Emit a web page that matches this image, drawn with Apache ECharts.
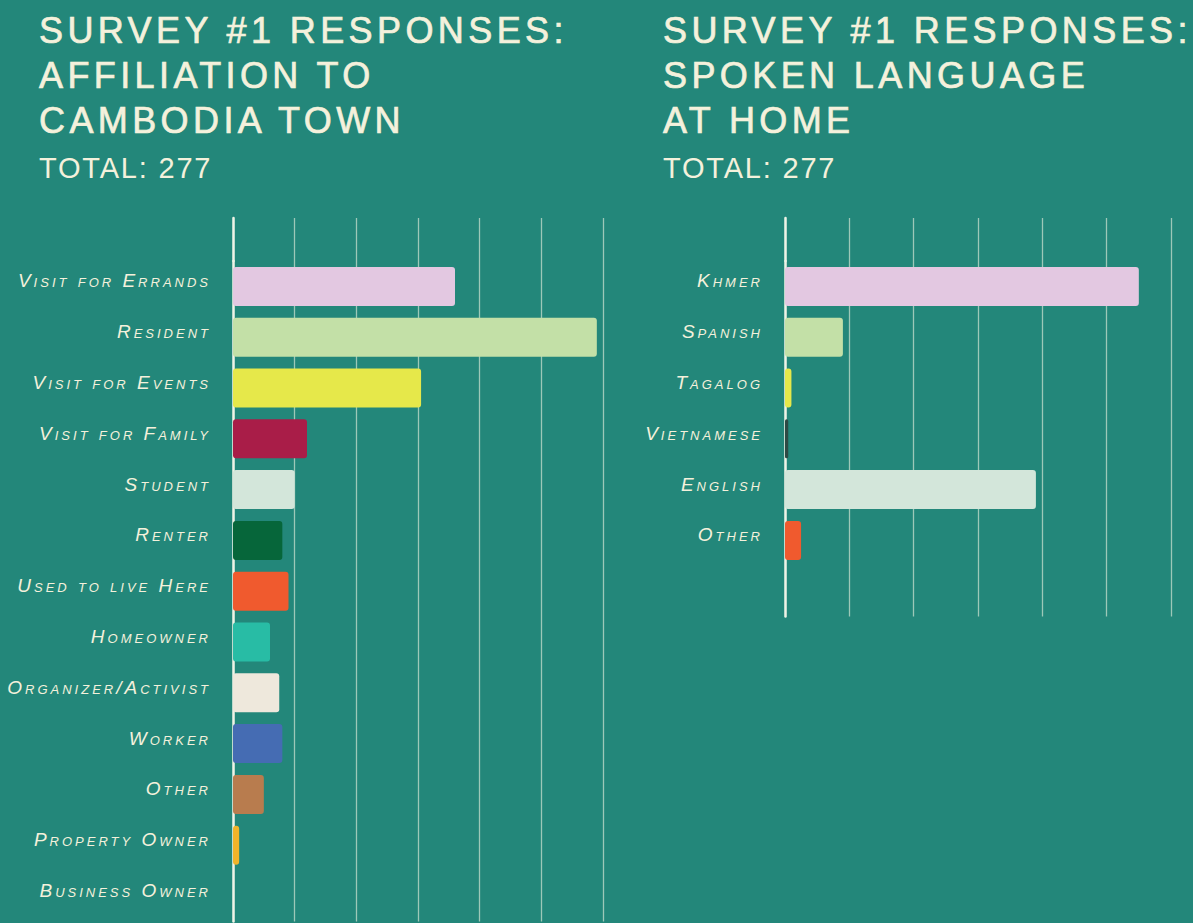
<!DOCTYPE html>
<html><head><meta charset="utf-8">
<script src="https://cdn.jsdelivr.net/npm/echarts@6/dist/echarts.min.js"></script>
<style>
html,body{margin:0;padding:0;background:#23877a;overflow:hidden;}
#main{width:1193px;height:923px;}
#main text[style*="italic"]{font-variant:small-caps !important;letter-spacing:3px;}
#main text[style*="36px"]{letter-spacing:4.4px;}
#main text[style*="29px"]{letter-spacing:1.8px;}
</style></head>
<body><div id="main"></div>
<script>
// ---- data ----
const affiliationCategories = ['Visit for Errands','Resident','Visit for Events','Visit for Family','Student','Renter','Used to live Here','Homeowner','Organizer/Activist','Worker','Other','Property Owner','Business Owner'];
const affiliationValues = [72, 118, 61, 24, 20, 16, 18, 12, 15, 16, 10, 2, 0];
const affiliationColors = ['#e3c8e1','#c3e0a7','#e6e84a','#a91d48','#d3e6da','#06663a','#f05a2e','#28bca5','#eee8dc','#456cb3','#b87c4e','#f0b42a','#f0b42a'];
const languageCategories = ['Khmer','Spanish','Tagalog','Vietnamese','English','Other'];
const languageValues = [110, 18, 2, 1, 78, 5];
const languageColors = ['#e3c8e1','#c3e0a7','#e6e84a','#2d4a44','#d3e6da','#f05a2e'];
const titleLeft = 'SURVEY #1 RESPONSES:\nAFFILIATION TO\nCAMBODIA TOWN';
const titleRight = 'SURVEY #1 RESPONSES:\nSPOKEN LANGUAGE\nAT HOME';
const totalText = 'TOTAL: 277';

// ---- style ----
const cream = '#f4f1dc';
const gridColor = 'rgba(232,240,222,0.62)';
const axisMax = 120, axisStep = 20;

function xAx(gi){
  return {type:'value', gridIndex:gi, min:0, max:axisMax, interval:axisStep,
    axisLabel:{show:false}, axisLine:{show:false}, axisTick:{show:false},
    splitLine:{show:true, lineStyle:{color:gridColor, width:1.3}}};
}
function yAx(gi, data, showLabel){
  return {type:'category', gridIndex:gi, inverse:true, data:data,
    axisLine:{show:true, lineStyle:{color:'#eef3e6', width:2.5}},
    axisTick:{show:false}, splitLine:{show:false},
    axisLabel:{show:showLabel, interval:0, color:cream, fontSize:19, fontStyle:'italic',
      fontFamily:'Liberation Sans', margin:22, verticalAlign:'bottom', lineHeight:11}};
}
function barData(vals, cols){
  return vals.map((v,i)=>({value:v, itemStyle:{color:cols[i]}}));
}
const titleStyle = {color:cream, fontSize:36, lineHeight:45, fontWeight:'normal', fontFamily:'Liberation Sans',
  textBorderColor:cream, textBorderWidth:0.7};
const subStyle = {color:cream, fontSize:29, lineHeight:34, fontFamily:'Liberation Sans'};

const chart = echarts.init(document.getElementById('main'), null, {renderer:'svg'});
chart.setOption({
  animation:false,
  backgroundColor:'#23877a',
  title:[
    {text:titleLeft, subtext:totalText, left:39, top:8, padding:0, itemGap:8, textStyle:titleStyle, subtextStyle:subStyle},
    {text:titleRight, subtext:totalText, left:663, top:8, padding:0, itemGap:8, textStyle:titleStyle, subtextStyle:subStyle}
  ],
  grid:[
    {left:233, top:261, width:370, height:660.4},
    {left:233, top:218, width:370, height:43},
    {left:785, top:261, width:386, height:355.6},
    {left:785, top:218, width:386, height:43}
  ],
  xAxis:[xAx(0), xAx(1), xAx(2), xAx(3)],
  yAxis:[
    yAx(0, affiliationCategories, true),
    yAx(1, [''], false),
    yAx(2, languageCategories.concat(['']), true),
    yAx(3, [''], false)
  ],
  series:[
    {type:'bar', xAxisIndex:0, yAxisIndex:0, barWidth:39, itemStyle:{borderRadius:3},
      data:barData(affiliationValues, affiliationColors)},
    {type:'bar', xAxisIndex:2, yAxisIndex:2, barWidth:39, itemStyle:{borderRadius:3},
      data:barData(languageValues, languageColors)}
  ]
});
</script></body></html>
